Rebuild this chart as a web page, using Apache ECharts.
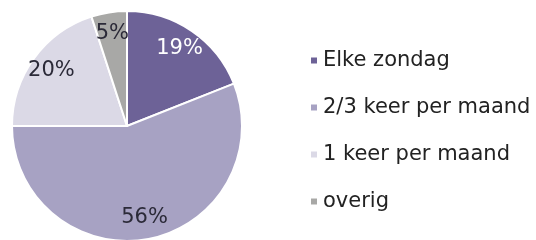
<!DOCTYPE html>
<html>
<head>
<meta charset="utf-8">
<script src="https://cdn.jsdelivr.net/npm/echarts@6/dist/echarts.min.js"></script>
<style>
  html, body { margin: 0; padding: 0; background: #fff; }
  #chart { width: 536px; height: 240px; }
</style>
</head>
<body>
<div id="chart"></div>
<script>
  // frequency of attendance, share in percent
  var categories = ['Elke zondag', '2/3 keer per maand', '1 keer per maand', 'overig'];
  var shares = [19, 56, 20, 5];
  var colors = ['#6d6297', '#a7a2c3', '#dbd9e6', '#a8a8a6'];
  var labelColors = ['#ffffff', '#2b2a38', '#2b2a38', '#2b2a38'];

  var pieData = categories.map(function (name, i) {
    return {name: name, value: shares[i], itemStyle: {color: colors[i]}};
  });
  // same data again, only used to place the labels further out
  var labelData = categories.map(function (name, i) {
    return {name: name, value: shares[i], label: {color: labelColors[i]}};
  });

  var myChart = echarts.init(document.getElementById('chart'));
  var option = {
    animation: false,
    textStyle: {fontFamily: 'DejaVu Sans'},
    legend: {
      orient: 'vertical',
      left: 304,
      top: 45,
      itemWidth: 8,
      itemHeight: 8,
      itemGap: 26,
      icon: 'rect',
      data: categories,
      textStyle: {fontSize: 21, lineHeight: 21, color: '#222', fontFamily: 'DejaVu Sans'}
    },
    series: [
      {
        name: 'frequentie',
        type: 'pie',
        center: [127, 126],
        radius: [0, 115],
        startAngle: 90,
        clockwise: true,
        silent: true,
        itemStyle: {borderColor: '#fff', borderWidth: 2},
        label: {show: false},
        labelLine: {show: false},
        data: pieData
      },
      {
        name: 'labels',
        type: 'pie',
        center: [127, 126],
        radius: [66, 115],
        startAngle: 90,
        clockwise: true,
        silent: true,
        itemStyle: {color: 'rgba(0,0,0,0)', borderWidth: 0},
        label: {
          show: true,
          position: 'inside',
          fontSize: 21,
          fontFamily: 'DejaVu Sans',
          formatter: '{c}%'
        },
        labelLine: {show: false},
        data: labelData
      }
    ]
  };
  myChart.setOption(option);
</script>
</body>
</html>
